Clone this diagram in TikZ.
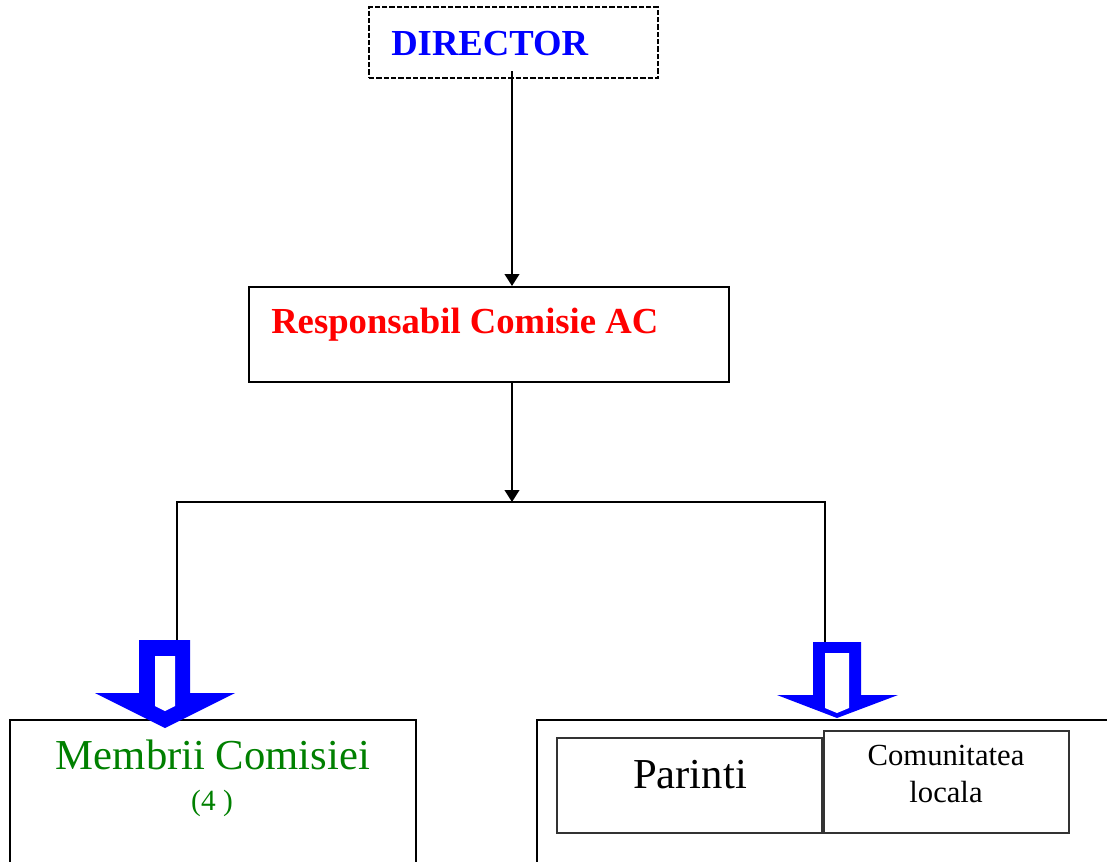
\documentclass[tikz,border=0pt]{standalone}
\usepackage{fontspec}
\setmainfont{Liberation Serif}
\usetikzlibrary{arrows.meta}
\definecolor{darkgreen}{RGB}{0,128,0}

\begin{document}
\begin{tikzpicture}[x=0.75pt,y=-0.75pt,
    box/.style={draw,line width=1.5pt,inner sep=0pt},
    dashbox/.style={box,line width=1.9pt,dash pattern=on 4pt off 1.5pt},
    subbox/.style={draw=black!80,line width=1.1pt,inner sep=0pt},
    conn/.style={line width=1.5pt},
    tip/.style={-{Triangle[length=9pt,width=11pt]}},
    blockarrow/.style={fill=blue,draw=none},
    txt/.style={inner sep=0pt}]
\useasboundingbox (0,0) rectangle (1107,861);
\clip (0,0) rectangle (1107,861);

% boxes
\node[dashbox,minimum width=216.75pt,minimum height=53.25pt](dir) at (513.5,42.5){};
\node[box,minimum width=360pt,minimum height=71.25pt](resp) at (489,334.5){};
\node[box,minimum width=304.5pt,minimum height=135pt](memb) at (213,810){};
\node[box,minimum width=444.75pt,minimum height=135pt](ext) at (833.5,810){};
\node[subbox,minimum width=198.75pt,minimum height=71.25pt](par) at (689.5,785.5){};
\node[subbox,minimum width=183.75pt,minimum height=76.5pt](com) at (946.5,782){};

% texts
\node[txt,anchor=base west,text=blue,font=\bfseries\fontsize{27.5}{30}\selectfont](dirtxt) at (391,55){DIRECTOR};
\node[txt,anchor=base west,text=red,font=\bfseries\fontsize{27.5}{30}\selectfont](resptxt) at (271,333){Responsabil Comisie AC};
\node[txt,anchor=base,text=darkgreen,font=\fontsize{32}{36}\selectfont](membtxt) at (213,769){Membrii Comisiei};
\node[txt,anchor=base,text=darkgreen,font=\fontsize{22}{25}\selectfont](nrtxt) at (212,810){(4 )};
\node[txt,anchor=base,font=\fontsize{32}{36}\selectfont](partxt) at (690,788){Parinti};
\node[txt,anchor=base,font=\fontsize{23}{26}\selectfont](comtxt) at (946,765){Comunitatea};
\node[txt,anchor=base,font=\fontsize{23}{26}\selectfont](loctxt) at (946,802){locala};

% connectors
\coordinate(bus) at (512,502);
\coordinate(busL) at (177,502);
\coordinate(busR) at (825,502);
\coordinate(arrL) at (177,641);
\coordinate(arrR) at (825,643);
\draw[conn,tip]([yshift=6pt]dir.south -| bus) -- (resp.north -| bus);
\draw[conn,tip](resp.south -| bus) -- (bus);
\draw[conn](arrL) -- (busL) -- (busR) -- (arrR);

% block arrows
\fill[blockarrow] (139,640) -- (190,640) -- (190,693) -- (235,693) -- (165,728)
    -- (95,693) -- (139,693) -- cycle;
\fill[white] (155,656) -- (175,656) -- (175,706) -- (165,711) -- (155,706) -- cycle;
\fill[blockarrow] (813,642) -- (861,642) -- (861,695) -- (898,695) -- (837,718)
    -- (777,695) -- (813,695) -- cycle;
\fill[white] (825,653) -- (849,653) -- (849,708) -- (837,713) -- (825,708) -- cycle;
\end{tikzpicture}
\end{document}
